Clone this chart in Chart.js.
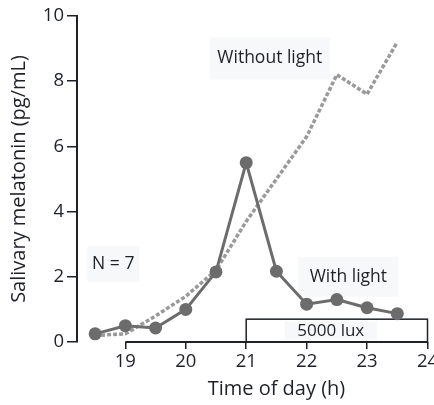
<!DOCTYPE html>
<html>
<head>
<meta charset="utf-8">
<script src="https://cdn.jsdelivr.net/npm/chart.js@4.4.1/dist/chart.umd.min.js"></script>
<style>
  html, body { margin: 0; padding: 0; background: #ffffff; }
  #wrap { width: 434px; height: 405px; }
</style>
</head>
<body>
<div id="wrap"><canvas id="melatoninChart" width="434" height="405"></canvas></div>
<script>
// data
const hours = [18.5, 19, 19.5, 20, 20.5, 21, 21.5, 22, 22.5, 23, 23.5];
const withLight = [0.25, 0.5, 0.43, 1.0, 2.15, 5.5, 2.17, 1.16, 1.3, 1.05, 0.87];
const withoutLight = [0.2, 0.25, 0.8, 1.4, 2.2, 3.7, 5.0, 6.3, 8.2, 7.6, 9.2];
const xTicks = [19, 20, 21, 22, 23, 24];
const yTicks = [0, 2, 4, 6, 8, 10];
const luxStart = 21;
const luxEnd = 24;
const luxHeight = 0.7;

const fontFamily = "'Open Sans', 'Noto Sans', sans-serif";
const inkColor = '#1f2128';
const labelBg = '#f7f8f9';

Chart.defaults.font.family = fontFamily;
Chart.defaults.color = inkColor;

// text labels: anchor in data units, box size in px
const textLabels = [
    { text: 'Without light', x: 21.39, y: 8.7, w: 120, h: 42 },
    { text: 'With light', x: 22.69, y: 2.0, w: 100, h: 40 },
    { text: 'N = 7', x: 18.8, y: 2.39, w: 52, h: 36 }
];

function xy(chart, x, y) {
    return [chart.scales.x.getPixelForValue(x), chart.scales.y.getPixelForValue(y)];
}

const annotationPlugin = {
    id: 'figureExtras',
    beforeDatasetsDraw(chart) {
        const ctx = chart.ctx;
        ctx.save();
        ctx.textAlign = 'center';
        ctx.textBaseline = 'middle';

        textLabels.forEach(function(label) {
            const p = xy(chart, label.x, label.y);
            ctx.fillStyle = labelBg;
            ctx.fillRect(p[0] - label.w / 2, p[1] - label.h / 2, label.w, label.h);
            ctx.fillStyle = inkColor;
            ctx.font = '17.5px ' + fontFamily;
            ctx.fillText(label.text, p[0], p[1]);
        });

        // 5000 lux box
        const a = xy(chart, luxStart, 0);
        const b = xy(chart, luxEnd, luxHeight);
        ctx.fillStyle = '#ffffff';
        ctx.fillRect(a[0], b[1], b[0] - a[0], a[1] - b[1]);
        const mid = xy(chart, 22.4, luxHeight / 2);
        ctx.fillStyle = labelBg;
        ctx.fillRect(mid[0] - 46, mid[1] - 9, 92, 18);
        ctx.strokeStyle = inkColor;
        ctx.lineWidth = 1.5;
        ctx.strokeRect(a[0], b[1], b[0] - a[0], a[1] - b[1]);
        ctx.fillStyle = inkColor;
        ctx.font = '17px ' + fontFamily;
        ctx.fillText('5000 lux', mid[0], mid[1] + 1);

        // x axis line only spans the ticked hours
        const x0 = chart.scales.x.getPixelForValue(xTicks[0]);
        const x1 = chart.scales.x.getPixelForValue(xTicks[xTicks.length - 1]);
        const yb = chart.chartArea.bottom;
        ctx.beginPath();
        ctx.moveTo(x0, yb);
        ctx.lineTo(x1, yb);
        ctx.lineWidth = 2;
        ctx.stroke();

        // x axis title centred under the ticked span
        ctx.font = '20px ' + fontFamily;
        ctx.fillText('Time of day (h)', (x0 + x1) / 2, 389);
        ctx.restore();
    }
};

new Chart(document.getElementById('melatoninChart'), {
    type: 'line',
    data: {
        datasets: [{
            label: 'With light',
            data: hours.map(function(h, i) { return { x: h, y: withLight[i] }; }),
            borderColor: '#6c6c6c',
            backgroundColor: '#6c6c6c',
            borderWidth: 3,
            pointRadius: 6.5,
            pointBorderWidth: 0,
            tension: 0
        }, {
            label: 'Without light',
            data: hours.map(function(h, i) { return { x: h, y: withoutLight[i] }; }),
            borderColor: '#9a9a9a',
            borderWidth: 3.5,
            borderDash: [4, 2],
            pointRadius: 0,
            tension: 0
        }]
    },
    options: {
        responsive: false,
        animation: false,
        layout: { padding: { top: 16, right: 6, left: 0, bottom: 0 } },
        plugins: {
            legend: { display: false },
            tooltip: { enabled: false }
        },
        scales: {
            x: {
                type: 'linear',
                min: 18.2,
                max: 24,
                afterBuildTicks: function(scale) {
                    scale.ticks = xTicks.map(function(v) { return { value: v }; });
                },
                afterFit: function(scale) {
                    scale.height = 63;
                    scale.paddingLeft = 0;
                    scale.paddingRight = 0;
                },
                ticks: {
                    autoSkip: false,
                    maxRotation: 0,
                    padding: 2,
                    font: { size: 18.5 },
                    color: inkColor
                },
                grid: {
                    drawOnChartArea: false,
                    tickLength: 7,
                    color: inkColor,
                    lineWidth: 1.5
                },
                border: { display: false }
            },
            y: {
                min: 0,
                max: 10,
                afterBuildTicks: function(scale) {
                    scale.ticks = yTicks.map(function(v) { return { value: v }; });
                },
                afterFit: function(scale) {
                    scale.width = 77;
                },
                ticks: {
                    padding: 3,
                    font: { size: 18.5 },
                    color: inkColor
                },
                grid: {
                    drawOnChartArea: false,
                    tickLength: 10,
                    color: inkColor,
                    lineWidth: 1.5
                },
                border: { display: true, color: inkColor, width: 2 },
                title: {
                    display: true,
                    text: 'Salivary melatonin (pg/mL)',
                    font: { size: 20 },
                    color: inkColor,
                    padding: { top: 7, bottom: 0 }
                }
            }
        }
    },
    plugins: [annotationPlugin]
});
</script>
</body>
</html>
